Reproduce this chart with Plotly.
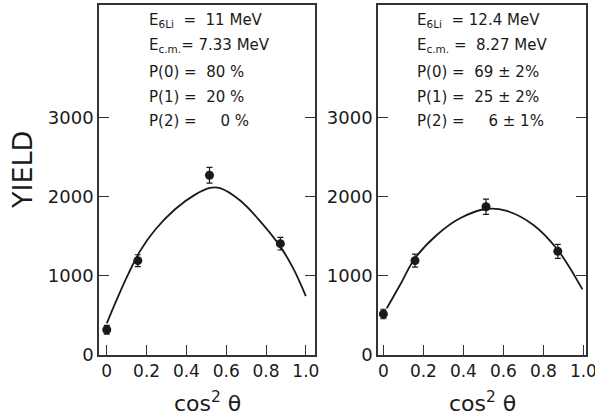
import plotly.graph_objects as go

# ---- data ----
cos2_pts_a = [0.0, 0.156, 0.516, 0.872]
yield_a = [320, 1194, 2275, 1409]
err_a = [55, 75, 100, 80]

curve_x_a = [0.0, 0.042, 0.109, 0.167, 0.243, 0.343, 0.444, 0.519, 0.569, 0.67, 0.77, 0.871, 0.938, 1.0]
curve_y_a = [400, 654, 1030, 1315, 1585, 1845, 2030, 2115, 2112, 1955, 1695, 1375, 1090, 745]

cos2_pts_b = [0.0, 0.158, 0.513, 0.872]
yield_b = [519, 1194, 1877, 1312]
err_b = [60, 82, 97, 89]

curve_x_b = [0.017, 0.083, 0.158, 0.267, 0.383, 0.513, 0.617, 0.75, 0.872, 0.995]
curve_y_b = [591, 886, 1224, 1519, 1730, 1848, 1823, 1646, 1329, 830]

x_ticks = [0, 0.2, 0.4, 0.6, 0.8, 1.0]
x_tick_labels = ["0", "0.2", "0.4", "0.6", "0.8", "1.0"]
y_ticks = [0, 1000, 2000, 3000]
y_tick_labels = ["0", "1000", "2000", "3000"]

text_a = ["E<sub>6Li</sub>  =  11 MeV", "E<sub>c.m.</sub>= 7.33 MeV", "P(0) =  80 %", "P(1) =  20 %", "P(2) =     0 %"]
text_b = ["E<sub>6Li</sub>  = 12.4 MeV", "E<sub>c.m.</sub> =  8.27 MeV", "P(0) =  69 ± 2%", "P(1) =  25 ± 2%", "P(2) =     6 ± 1%"]

FONT = "DejaVu Sans"
INK = "#1a1a1a"

fig = go.Figure()

for (px, py, pe, cx, cy, xa, ya) in [
    (cos2_pts_a, yield_a, err_a, curve_x_a, curve_y_a, "x", "y"),
    (cos2_pts_b, yield_b, err_b, curve_x_b, curve_y_b, "x2", "y2"),
]:
    fig.add_trace(go.Scatter(x=cx, y=cy, mode="lines", line=dict(color=INK, width=1.8, shape="spline", smoothing=1.0),
                             xaxis=xa, yaxis=ya, showlegend=False, hoverinfo="skip"))
    fig.add_trace(go.Scatter(x=px, y=py, mode="markers",
                             marker=dict(color=INK, size=9),
                             error_y=dict(type="data", array=pe, color=INK, thickness=1.2, width=3),
                             xaxis=xa, yaxis=ya, showlegend=False))

W, H = 595, 417
def fx(p):
    return p / W
def fy(p):
    return 1 - p / H

axis_common = dict(showgrid=False, zeroline=False, showline=True, linecolor="#333", linewidth=1.5,
                   ticks="inside", ticklen=10, tickwidth=1.3, tickcolor="#333")

xfont = dict(family=FONT, size=17, color=INK)
yfont = dict(family=FONT, size=18, color=INK)

fig.update_layout(
    width=W, height=H,
    margin=dict(l=0, r=0, t=0, b=0, autoexpand=False),
    paper_bgcolor="white", plot_bgcolor="white",
    xaxis=dict(domain=[fx(99), fx(315)], range=[-0.039, 1.046], tickvals=x_ticks, ticktext=x_tick_labels,
               mirror=True, anchor="y", tickfont=xfont, ticklabeloverflow="allow", **axis_common),
    yaxis=dict(domain=[fy(355), fy(5)], range=[0, 4430], tickvals=y_ticks, ticktext=y_tick_labels,
               mirror="ticks", anchor="x", tickfont=yfont, ticklabeloverflow="allow", **axis_common),
    xaxis2=dict(domain=[fx(378), fx(586)], range=[-0.027, 1.013], tickvals=x_ticks, ticktext=x_tick_labels,
                mirror=True, anchor="y2", tickfont=xfont, ticklabeloverflow="allow", **axis_common),
    yaxis2=dict(domain=[fy(355), fy(5)], range=[0, 4430], tickvals=y_ticks, ticktext=y_tick_labels,
                mirror="ticks", anchor="x2", tickfont=yfont, ticklabeloverflow="allow", **axis_common),
)

ann = []
line_y = [20, 45, 72, 97, 121]
for i, t in enumerate(text_a):
    ann.append(dict(text=t, x=fx(147), y=fy(line_y[i]), xref="paper", yref="paper", xanchor="left", yanchor="middle",
                    showarrow=False, font=dict(family=FONT, size=15, color=INK)))
for i, t in enumerate(text_b):
    ann.append(dict(text=t, x=fx(415), y=fy(line_y[i]), xref="paper", yref="paper", xanchor="left", yanchor="middle",
                    showarrow=False, font=dict(family=FONT, size=15, color=INK)))

ann.append(dict(text="cos<sup>2</sup> θ", x=fx(207), y=fy(402), xref="paper", yref="paper", xanchor="center",
                yanchor="middle", showarrow=False, font=dict(family=FONT, size=22, color=INK)))
ann.append(dict(text="cos<sup>2</sup> θ", x=fx(482), y=fy(402), xref="paper", yref="paper", xanchor="center",
                yanchor="middle", showarrow=False, font=dict(family=FONT, size=22, color=INK)))
ann.append(dict(text="YIELD", x=fx(22), y=fy(170), xref="paper", yref="paper", xanchor="center",
                yanchor="middle", textangle=-90, showarrow=False, font=dict(family=FONT, size=27, color=INK)))
fig.update_layout(annotations=ann)

fig.write_html("out.html", post_script="document.body.style.margin='0px';",
               config={"displayModeBar": False})
